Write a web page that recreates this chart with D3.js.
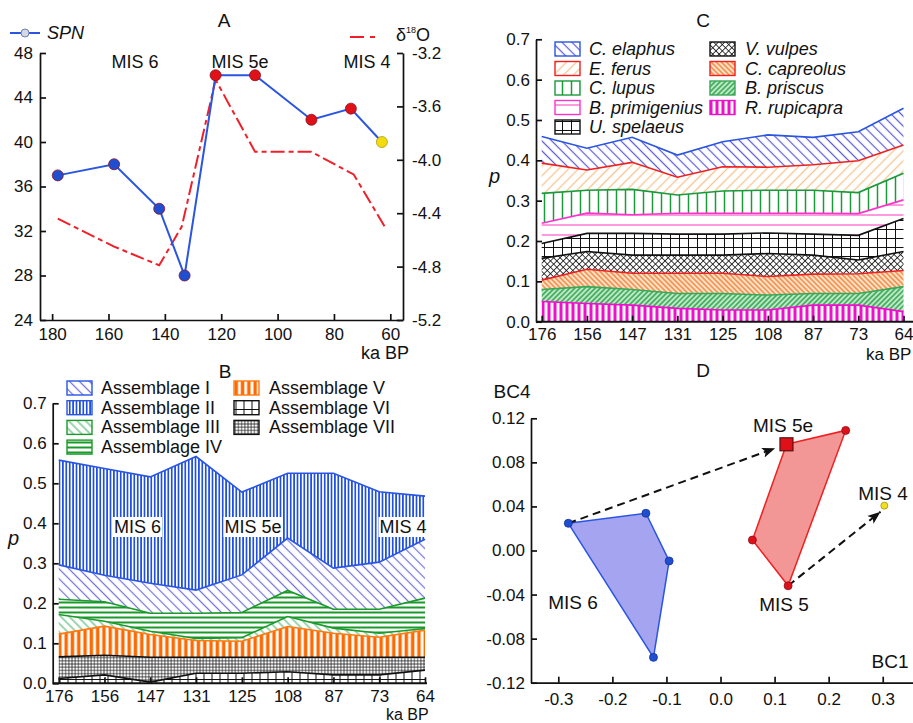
<!DOCTYPE html>
<html>
<head>
<meta charset="utf-8">
<script src="https://cdn.jsdelivr.net/npm/d3@7"></script>
<style>
body { margin: 0; background: #fff; }
svg { font-family: Arial, "Liberation Sans", sans-serif; }
.axis text { font-size: 17px; fill: #111; }
.axis path, .axis line { stroke: #111; stroke-width: 1.7; }
.lbl { font-size: 18px; fill: #111; }
</style>
</head>
<body>
<script>
//---------------- Data ----------------
// A: species richness (SPN) and d18O through time
var spnAge = [178, 158, 142, 133, 122, 108, 88, 74, 63];
var spnVal = [37, 38, 34, 28, 46, 46, 42, 43, 40];
var spnMis = ["6", "6", "6", "6", "5", "5", "5", "5", "4"];
var d18Age = [178, 158, 142, 134, 122, 108, 88, 73, 62];
var d18Val = [-4.44, -4.65, -4.79, -4.50, -3.40, -3.94, -3.94, -4.11, -4.50];
var ageTicks = [180, 160, 140, 120, 100, 80, 60];
var spnTicks = [24, 28, 32, 36, 40, 44, 48];
var d18Ticks = [-5.2, -4.8, -4.4, -4.0, -3.6, -3.2];

// B and C share the sample ages
var sampleAges = ["176", "156", "147", "131", "125", "108", "87", "73", "64"];
var pTicks = [0, 0.1, 0.2, 0.3, 0.4, 0.5, 0.6, 0.7];

// B: assemblages (stacked from bottom)
var asmKeys = ["VI", "VII", "V", "III", "IV", "I", "II"];
var asmVI  = [0.012, 0.021, 0.003, 0.025, 0.025, 0.029, 0.021, 0.021, 0.033];
var asmVII = [0.054, 0.049, 0.062, 0.040, 0.040, 0.036, 0.044, 0.044, 0.032];
var asmV   = [0.057, 0.073, 0.057, 0.042, 0.040, 0.077, 0.060, 0.050, 0.068];
var asmIII = [0.049, 0.012, 0.008, 0.005, 0.009, 0.025, 0.013, 0.010, 0.004];
var asmIV  = [0.038, 0.049, 0.045, 0.063, 0.063, 0.065, 0.047, 0.060, 0.076];
var asmI   = [0.086, 0.066, 0.075, 0.058, 0.094, 0.131, 0.103, 0.118, 0.147];
var asmII  = [0.262, 0.267, 0.266, 0.334, 0.207, 0.162, 0.237, 0.176, 0.108];
var asmLegendLeft = ["I", "II", "III", "IV"];
var asmLegendRight = ["V", "VI", "VII"];

// C: species (stacked from bottom)
var spKeys = ["rup", "pri", "cap", "vul", "spe", "prim", "lup", "fer", "ela"];
var spNames = {ela: "C. elaphus", fer: "E. ferus", lup: "C. lupus", prim: "B. primigenius",
  spe: "U. spelaeus", vul: "V. vulpes", cap: "C. capreolus", pri: "B. priscus", rup: "R. rupicapra"};
var spRup  = [0.050, 0.045, 0.041, 0.033, 0.029, 0.029, 0.041, 0.041, 0.025];
var spPri  = [0.030, 0.042, 0.039, 0.037, 0.041, 0.037, 0.029, 0.029, 0.062];
var spCap  = [0.023, 0.043, 0.040, 0.050, 0.050, 0.046, 0.048, 0.049, 0.040];
var spVul  = [0.054, 0.044, 0.045, 0.045, 0.045, 0.057, 0.047, 0.034, 0.047];
var spSpe  = [0.037, 0.045, 0.054, 0.052, 0.052, 0.051, 0.052, 0.061, 0.082];
var spPrim = [0.050, 0.050, 0.046, 0.052, 0.052, 0.049, 0.052, 0.054, 0.046];
var spLup  = [0.074, 0.057, 0.063, 0.045, 0.055, 0.057, 0.057, 0.052, 0.066];
var spFer  = [0.075, 0.050, 0.067, 0.044, 0.060, 0.057, 0.063, 0.079, 0.070];
var spEla  = [0.066, 0.054, 0.062, 0.055, 0.062, 0.080, 0.068, 0.072, 0.091];
var spLegendLeft = ["ela", "fer", "lup", "prim", "spe"];
var spLegendRight = ["vul", "cap", "pri", "rup"];

// D: ordination (BC1 vs BC4)
var mis6Hull = [[-0.2815, 0.0247], [-0.138, 0.0338], [-0.095, -0.0095], [-0.124, -0.097]];
var mis5Hull = [[0.122, 0.0964], [0.2315, 0.109], [0.125, -0.032], [0.059, 0.0095]];
var mis5e = [0.122, 0.0964];
var mis4 = [0.303, 0.0407];
var arrows = [[[-0.2815, 0.0247], [0.101, 0.0928]], [[0.125, -0.032], [0.296, 0.0352]]];
var bc1Ticks = [-0.3, -0.2, -0.1, 0.0, 0.1, 0.2, 0.3];
var bc4Ticks = [-0.12, -0.08, -0.04, 0.00, 0.04, 0.08, 0.12];

//---------------- Canvas ----------------
var svg = d3.select("body").append("svg")
  .attr("width", 913).attr("height", 723);
svg.append("rect").attr("width", 913).attr("height", 723).attr("fill", "#fff");
var defs = svg.append("defs");

//Patterns
function linePattern(id, size, angle, color, width, bg) {
  var p = defs.append("pattern").attr("id", id)
    .attr("patternUnits", "userSpaceOnUse")
    .attr("width", size).attr("height", size)
    .attr("patternTransform", "rotate(" + angle + ")");
  p.append("rect").attr("width", size).attr("height", size).attr("fill", bg || "#fff");
  p.append("line").attr("x1", size / 2).attr("x2", size / 2).attr("y1", 0).attr("y2", size)
    .attr("stroke", color).attr("stroke-width", width);
}
function gridPattern(id, sx, sy, angle, color, width) {
  var p = defs.append("pattern").attr("id", id)
    .attr("patternUnits", "userSpaceOnUse")
    .attr("width", sx).attr("height", sy)
    .attr("patternTransform", "rotate(" + angle + ")");
  p.append("rect").attr("width", sx).attr("height", sy).attr("fill", "#fff");
  p.append("line").attr("x1", sx / 2).attr("x2", sx / 2).attr("y1", 0).attr("y2", sy)
    .attr("stroke", color).attr("stroke-width", width);
  p.append("line").attr("x1", 0).attr("x2", sx).attr("y1", sy / 2).attr("y2", sy / 2)
    .attr("stroke", color).attr("stroke-width", width);
}

var blue = "#2a55e0", red = "#ee2020", green = "#1a9a3a";

// B styles
linePattern("pI", 7, -45, "#7070e0", 1.2);
linePattern("pII", 3.4, 0, "#1f50e0", 1.7);
linePattern("pIII", 6, -45, "#5cbb7a", 1.2);
linePattern("pIV", 5, 90, "#1a9a2a", 2);
linePattern("pV", 6.3, 0, "#ff6a00", 3.4);
gridPattern("pVI", 8, 9, 0, "#111", 1);
gridPattern("pVII", 3.2, 3.2, 0, "#111", 0.7);
var asmStyle = {
  I: {fill: "url(#pI)", line: blue}, II: {fill: "url(#pII)", line: blue},
  III: {fill: "url(#pIII)", line: "#1a9a2a"}, IV: {fill: "url(#pIV)", line: "#1a9a2a"},
  V: {fill: "url(#pV)", line: "#ff7a10"}, VI: {fill: "url(#pVI)", line: "#111"},
  VII: {fill: "url(#pVII)", line: "#111"}
};

// C styles
linePattern("pEla", 7, -45, "#5a5ae0", 1.2);
linePattern("pFer", 7, 45, "#f7c48f", 1.3);
linePattern("pLup", 9, 0, green, 1.5);
linePattern("pPrim", 10, 90, "#ff55cc", 1.2);
gridPattern("pSpe", 9, 9, 0, "#111", 1);
gridPattern("pVul", 4.5, 4.5, 45, "#111", 0.8);
linePattern("pCap", 3.6, -45, "#f07a28", 1.3, "#fde3cc");
linePattern("pPri", 3.6, 45, "#1a9a3a", 1.3, "#bfe8c8");
linePattern("pRup", 6, 0, "#ee10cc", 3);
var spStyle = {
  ela: {fill: "url(#pEla)", line: blue}, fer: {fill: "url(#pFer)", line: red},
  lup: {fill: "url(#pLup)", line: green}, prim: {fill: "url(#pPrim)", line: "#ff33cc"},
  spe: {fill: "url(#pSpe)", line: "#111"}, vul: {fill: "url(#pVul)", line: "#111"},
  cap: {fill: "url(#pCap)", line: red}, pri: {fill: "url(#pPri)", line: "#3aa858"},
  rup: {fill: "url(#pRup)", line: "#ee10cc"}
};

//Arrow head
defs.append("marker").attr("id", "arrow")
  .attr("markerUnits", "userSpaceOnUse")
  .attr("markerWidth", 14).attr("markerHeight", 12)
  .attr("refX", 13).attr("refY", 6).attr("orient", "auto")
  .append("path").attr("d", "M0,1 L13,6 L0,11 L3,6 Z").attr("fill", "#111");

function fmt(n) { return function(d) { return d.toFixed(n); }; }

function title(txt, x, y) {
  svg.append("text").attr("class", "lbl").attr("x", x).attr("y", y)
    .attr("text-anchor", "middle").style("font-size", "19px").text(txt);
}

//================ Panel A ================
var xA = d3.scaleLinear().domain([184.3, 55.5]).range([40, 403]);
var yA = d3.scaleLinear().domain([24, 48]).range([320, 53]);
var yA2 = d3.scaleLinear().domain([-5.2, -3.2]).range([320, 53]);

svg.append("g").attr("class", "axis").attr("transform", "translate(0,320)")
  .call(d3.axisBottom(xA).tickValues(ageTicks).tickSize(-6).tickSizeOuter(0).tickPadding(8));
svg.append("g").attr("class", "axis").attr("transform", "translate(40,0)")
  .call(d3.axisLeft(yA).tickValues(spnTicks).tickSize(-6).tickSizeOuter(0).tickPadding(7));
svg.append("g").attr("class", "axis").attr("transform", "translate(403,0)")
  .call(d3.axisRight(yA2).tickValues(d18Ticks).tickFormat(fmt(1)).tickSize(-6).tickSizeOuter(0).tickPadding(9));

//d18O line
svg.append("path")
  .datum(d18Age.map(function(a, i) { return [a, d18Val[i]]; }))
  .attr("fill", "none").attr("stroke", "#f0202a").attr("stroke-width", 2)
  .attr("stroke-dasharray", "14,4,5,4")
  .attr("d", d3.line().x(function(d) { return xA(d[0]); }).y(function(d) { return yA2(d[1]); }));

//SPN line + points
var spnData = spnAge.map(function(a, i) { return {age: a, v: spnVal[i], mis: spnMis[i]}; });
svg.append("path").datum(spnData)
  .attr("fill", "none").attr("stroke", blue).attr("stroke-width", 2)
  .attr("d", d3.line().x(function(d) { return xA(d.age); }).y(function(d) { return yA(d.v); }));
var misColor = {"6": "#1f4fd0", "5": "#e01018", "4": "#f2dc10"};
svg.selectAll("circle.spn").data(spnData).enter().append("circle")
  .attr("class", "spn")
  .attr("cx", function(d) { return xA(d.age); })
  .attr("cy", function(d) { return yA(d.v); })
  .attr("r", 5.5)
  .attr("fill", function(d) { return misColor[d.mis]; })
  .attr("stroke", function(d) { return d.mis == "4" ? "#b09a10" : "#8a1020"; })
  .attr("stroke-width", 0.8);

//Legend A
svg.append("line").attr("x1", 10).attr("x2", 40).attr("y1", 33).attr("y2", 33)
  .attr("stroke", blue).attr("stroke-width", 2);
svg.append("circle").attr("cx", 25).attr("cy", 33).attr("r", 4)
  .attr("fill", "#d4d9e6").attr("stroke", "#7080b0");
svg.append("text").attr("class", "lbl").attr("x", 47).attr("y", 39)
  .style("font-style", "italic").text("SPN");
svg.append("line").attr("x1", 350).attr("x2", 385).attr("y1", 37).attr("y2", 37)
  .attr("stroke", "#f0202a").attr("stroke-width", 2).attr("stroke-dasharray", "14,6,5,20");
var dt = svg.append("text").attr("class", "lbl").attr("x", 396).attr("y", 41);
dt.append("tspan").text("\u03b4");
dt.append("tspan").attr("dy", -8).style("font-size", "9px").text("18");
dt.append("tspan").attr("dy", 8).text("O");

title("A", 224, 27);
[["MIS 6", 135], ["MIS 5e", 240], ["MIS 4", 367]].forEach(function(m) {
  svg.append("text").attr("class", "lbl").attr("x", m[1]).attr("y", 68)
    .attr("text-anchor", "middle").text(m[0]);
});
svg.append("text").attr("class", "lbl").attr("x", 385).attr("y", 359)
  .attr("text-anchor", "middle").text("ka BP");

//================ Stacked panels helper ================
function stackPanel(cfg) {
  var x = d3.scalePoint().domain(sampleAges).range(cfg.catRange);
  var y = d3.scaleLinear().domain([0, 0.7]).range([cfg.bottom, cfg.top]);
  var table = sampleAges.map(function(c, i) {
    var row = {cat: c};
    cfg.keys.forEach(function(k) { row[k] = cfg.series[k][i]; });
    return row;
  });
  var layers = d3.stack().keys(cfg.keys)(table);

  var area = d3.area()
    .x(function(d) { return x(d.data.cat); })
    .y0(function(d) { return y(d[0]); })
    .y1(function(d) { return y(d[1]); });
  var top = d3.line()
    .x(function(d) { return x(d.data.cat); })
    .y(function(d) { return y(d[1]); });

  var g = svg.append("g");
  g.selectAll("path.band").data(layers).enter().append("path")
    .attr("class", "band")
    .attr("fill", function(d) { return cfg.style[d.key].fill; })
    .attr("d", area);
  g.selectAll("path.edge").data(layers).enter().append("path")
    .attr("class", "edge")
    .attr("fill", "none")
    .attr("stroke", function(d) { return cfg.style[d.key].line; })
    .attr("stroke-width", 1.6)
    .attr("d", top);

  //Axes
  svg.append("g").attr("class", "axis").attr("transform", "translate(0," + cfg.bottom + ")")
    .call(d3.axisBottom(x).tickSize(-6).tickSizeOuter(0).tickPadding(cfg.xPad))
    .select(".domain").remove();
  svg.append("line").attr("x1", cfg.left).attr("x2", cfg.right)
    .attr("y1", cfg.bottom).attr("y2", cfg.bottom)
    .attr("stroke", "#111").attr("stroke-width", 1.9);
  svg.append("g").attr("class", "axis").attr("transform", "translate(" + cfg.left + ",0)")
    .call(d3.axisLeft(y).tickValues(pTicks).tickFormat(fmt(1)).tickSize(-6).tickSizeOuter(0).tickPadding(6));

  svg.append("text").attr("class", "lbl").attr("x", cfg.pX).attr("y", cfg.pY)
    .style("font-style", "italic").style("font-size", "20px").text("p");
  svg.append("text").attr("class", "lbl").attr("x", cfg.kaX).attr("y", cfg.kaY)
    .style("font-size", cfg.kaSize).text("ka BP");

  //Legend
  function legendCol(keys, sx, tx, y0) {
    keys.forEach(function(k, i) {
      var yy = y0 + i * cfg.rowH;
      svg.append("rect").attr("x", sx).attr("y", yy - 7).attr("width", 25).attr("height", 14)
        .attr("fill", cfg.style[k].fill).attr("stroke", cfg.style[k].line).attr("stroke-width", 1.4);
      svg.append("text").attr("class", "lbl").attr("x", tx).attr("y", yy + 6)
        .style("font-style", cfg.italic ? "italic" : "normal")
        .text(cfg.names(k));
    });
  }
  legendCol(cfg.legendLeft, cfg.legX[0], cfg.legX[0] + 34, cfg.legY);
  legendCol(cfg.legendRight, cfg.legX[1], cfg.legX[1] + 35, cfg.legY);
  return {x: x, y: y};
}

//================ Panel B ================
var pb = stackPanel({
  keys: asmKeys,
  series: {VI: asmVI, VII: asmVII, V: asmV, III: asmIII, IV: asmIV, I: asmI, II: asmII},
  style: asmStyle,
  catRange: [58.7, 425], left: 52.7, right: 427, bottom: 683.3, top: 403.3,
  xPad: 6.5, pX: 8, pY: 545, kaX: 386, kaY: 720, kaSize: "16px",
  legendLeft: asmLegendLeft, legendRight: asmLegendRight,
  legX: [67, 234], legY: 388, rowH: 19.7, italic: false,
  names: function(k) { return "Assemblage " + k; }
});
title("B", 225, 378);
[["MIS 6", 137.5], ["MIS 5e", 253], ["MIS 4", 403]].forEach(function(m) {
  var t = svg.append("text").attr("class", "lbl").attr("x", m[1]).attr("y", 533)
    .attr("text-anchor", "middle").text(m[0]);
  var bb = t.node().getBBox();
  svg.insert("rect", function() { return t.node(); })
    .attr("x", bb.x - 1).attr("y", bb.y).attr("width", bb.width + 2).attr("height", bb.height)
    .attr("fill", "#fff");
});

//================ Panel C ================
var pc = stackPanel({
  keys: spKeys,
  series: {rup: spRup, pri: spPri, cap: spCap, vul: spVul, spe: spSpe, prim: spPrim,
           lup: spLup, fer: spFer, ela: spEla},
  style: spStyle,
  catRange: [541.7, 903.5], left: 536, right: 913, bottom: 321.7, top: 39.3,
  xPad: 6, pX: 489, pY: 183, kaX: 866, kaY: 360, kaSize: "17px",
  legendLeft: spLegendLeft, legendRight: spLegendRight,
  legX: [555, 710], legY: 49, rowH: 19.5, italic: true,
  names: function(k) { return spNames[k]; }
});
title("C", 703, 27);

//================ Panel D ================
var xD = d3.scaleLinear().domain([-0.3505, 0.356]).range([531, 913]);
var yD = d3.scaleLinear().domain([-0.12, 0.12]).range([682.7, 418.3]);

svg.append("g").attr("class", "axis").attr("transform", "translate(0,682.7)")
  .call(d3.axisBottom(xD).tickValues(bc1Ticks).tickFormat(fmt(1)).tickSize(-6).tickSizeOuter(0).tickPadding(10));
svg.append("g").attr("class", "axis").attr("transform", "translate(531,0)")
  .call(d3.axisLeft(yD).tickValues(bc4Ticks).tickFormat(fmt(2)).tickSize(-6).tickSizeOuter(0).tickPadding(6));

var hullLine = d3.line().x(function(d) { return xD(d[0]); }).y(function(d) { return yD(d[1]); })
  .curve(d3.curveLinearClosed);
svg.append("path").datum(mis6Hull).attr("d", hullLine)
  .attr("fill", "#a4a4f0").attr("stroke", blue).attr("stroke-width", 1.5);
svg.append("path").datum(mis5Hull).attr("d", hullLine)
  .attr("fill", "#f29696").attr("stroke", red).attr("stroke-width", 1.5);

svg.selectAll("path.arrow").data(arrows).enter().append("path")
  .attr("class", "arrow")
  .attr("d", d3.line().x(function(d) { return xD(d[0]); }).y(function(d) { return yD(d[1]); }))
  .attr("fill", "none").attr("stroke", "#111").attr("stroke-width", 2)
  .attr("stroke-dasharray", "8,5").attr("marker-end", "url(#arrow)");

svg.selectAll("circle.m6").data(mis6Hull).enter().append("circle")
  .attr("cx", function(d) { return xD(d[0]); }).attr("cy", function(d) { return yD(d[1]); })
  .attr("r", 4).attr("fill", "#1f4fd0").attr("stroke", "#16309a").attr("stroke-width", 0.8);
svg.selectAll("circle.m5").data(mis5Hull.slice(1)).enter().append("circle")
  .attr("cx", function(d) { return xD(d[0]); }).attr("cy", function(d) { return yD(d[1]); })
  .attr("r", 4).attr("fill", "#e01018").attr("stroke", "#8a1020").attr("stroke-width", 0.8);
svg.append("rect").attr("x", xD(mis5e[0]) - 6.5).attr("y", yD(mis5e[1]) - 6.5)
  .attr("width", 13).attr("height", 13)
  .attr("fill", "#e01018").attr("stroke", "#5a1010").attr("stroke-width", 1.2);
svg.append("circle").attr("cx", xD(mis4[0])).attr("cy", yD(mis4[1])).attr("r", 3.5)
  .attr("fill", "#f0e020").attr("stroke", "#a09010").attr("stroke-width", 0.8);

title("D", 703, 377);
[["BC4", 512, 398], ["BC1", 890, 668], ["MIS 5e", 783, 432], ["MIS 4", 883, 500],
 ["MIS 6", 573, 609], ["MIS 5", 784, 611]].forEach(function(m) {
  svg.append("text").attr("class", "lbl").attr("x", m[1]).attr("y", m[2])
    .attr("text-anchor", "middle").style("font-size", "19px").text(m[0]);
});
</script>
</body>
</html>
